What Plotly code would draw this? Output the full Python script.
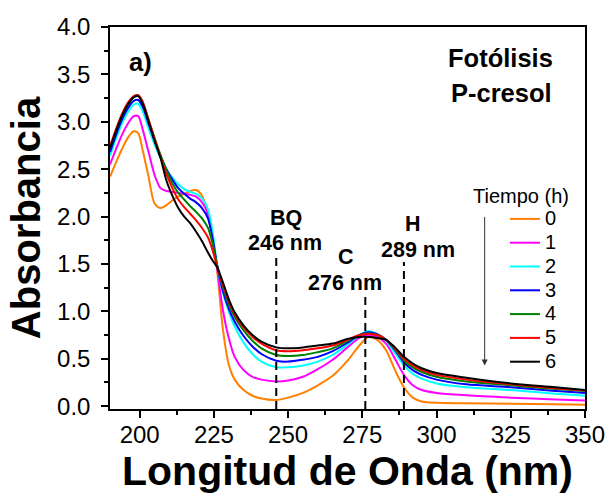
import plotly.graph_objects as go

# Wavelength (nm)
wavelength = [190, 192, 194, 196, 198, 199.5, 201, 203, 205, 207, 209, 211, 213, 215, 217,
              219, 221, 223, 224.5, 226, 228, 230, 232, 235, 238, 241, 246, 250, 255, 260,
              265, 270, 274, 277, 280, 283, 286, 289, 292, 295, 300, 310, 325, 340, 350]

# Absorbance for each irradiation time (h)
abs_t0 = [2.42, 2.57, 2.71, 2.83, 2.90, 2.88, 2.70, 2.42, 2.14, 2.09, 2.12, 2.17, 2.21, 2.24, 2.27,
          2.28, 2.22, 2.02, 1.76, 1.46, 0.82, 0.44, 0.28, 0.17, 0.11, 0.08, 0.065, 0.09, 0.14, 0.22,
          0.32, 0.48, 0.64, 0.73, 0.70, 0.59, 0.38, 0.20, 0.09, 0.05, 0.035, 0.03, 0.025, 0.02, 0.015]
abs_t1 = [2.55, 2.71, 2.86, 2.98, 3.06, 3.06, 2.92, 2.68, 2.44, 2.30, 2.27, 2.26, 2.25, 2.24, 2.23,
          2.21, 2.15, 2.03, 1.80, 1.47, 1.02, 0.72, 0.52, 0.38, 0.31, 0.28, 0.26, 0.27, 0.31, 0.39,
          0.49, 0.62, 0.72, 0.75, 0.73, 0.66, 0.50, 0.33, 0.22, 0.17, 0.14, 0.115, 0.09, 0.07, 0.06]
abs_t2 = [2.64, 2.82, 2.98, 3.10, 3.18, 3.19, 3.11, 2.93, 2.76, 2.62, 2.50, 2.41, 2.34, 2.29, 2.26,
          2.24, 2.19, 2.08, 1.85, 1.50, 1.20, 1.00, 0.84, 0.67, 0.55, 0.47, 0.41, 0.41, 0.43, 0.47,
          0.54, 0.65, 0.75, 0.79, 0.76, 0.69, 0.56, 0.43, 0.34, 0.29, 0.24, 0.20, 0.17, 0.13, 0.11]
abs_t3 = [2.68, 2.86, 3.02, 3.14, 3.22, 3.23, 3.16, 2.98, 2.80, 2.64, 2.50, 2.39, 2.30, 2.24, 2.19,
          2.15, 2.09, 1.98, 1.78, 1.50, 1.22, 1.03, 0.89, 0.74, 0.63, 0.55, 0.48, 0.47, 0.49, 0.52,
          0.58, 0.67, 0.75, 0.78, 0.76, 0.70, 0.59, 0.46, 0.38, 0.33, 0.28, 0.23, 0.20, 0.16, 0.14]
abs_t4 = [2.72, 2.90, 3.06, 3.18, 3.26, 3.28, 3.21, 3.02, 2.83, 2.65, 2.49, 2.35, 2.25, 2.18, 2.11,
          2.05, 1.98, 1.88, 1.72, 1.50, 1.26, 1.08, 0.94, 0.80, 0.69, 0.61, 0.54, 0.53, 0.54, 0.57,
          0.61, 0.69, 0.75, 0.77, 0.75, 0.70, 0.60, 0.48, 0.41, 0.36, 0.31, 0.26, 0.22, 0.18, 0.16]
abs_t5 = [2.74, 2.92, 3.08, 3.20, 3.27, 3.28, 3.21, 3.02, 2.82, 2.63, 2.45, 2.30, 2.18, 2.10, 2.03,
          1.96, 1.88, 1.78, 1.65, 1.48, 1.28, 1.11, 0.97, 0.83, 0.73, 0.66, 0.59, 0.58, 0.59, 0.61,
          0.64, 0.70, 0.75, 0.76, 0.75, 0.70, 0.61, 0.50, 0.43, 0.38, 0.33, 0.28, 0.23, 0.19, 0.165]
abs_t6 = [2.72, 2.90, 3.06, 3.18, 3.26, 3.27, 3.19, 3.00, 2.80, 2.62, 2.38, 2.22, 2.09, 2.00, 1.93,
          1.84, 1.74, 1.62, 1.54, 1.47, 1.31, 1.13, 0.99, 0.85, 0.75, 0.68, 0.62, 0.61, 0.62, 0.64,
          0.66, 0.71, 0.73, 0.73, 0.72, 0.70, 0.62, 0.52, 0.45, 0.40, 0.35, 0.30, 0.24, 0.20, 0.17]

series = [abs_t0, abs_t1, abs_t2, abs_t3, abs_t4, abs_t5, abs_t6]
time_labels = ["0", "1", "2", "3", "4", "5", "6"]
colors = ["#FF8000", "#FF00FF", "#00FFFF", "#0000FF", "#008000", "#FF0000", "#000000"]

# Marked wavelengths
marker_wl = [246, 276, 289]
marker_top = [1.595, 1.16, 1.52]

x_ticks = [200, 225, 250, 275, 300, 325, 350]

FONT = "Arial, Liberation Sans, sans-serif"

fig = go.Figure()
for vals, lab, col in zip(series, time_labels, colors):
    fig.add_trace(go.Scatter(
        x=wavelength, y=vals, mode="lines", name=f'<span style="font-size:20px">{lab}</span>',
        line=dict(color=col, width=2, shape="spline", smoothing=0.8),
    ))

for wl, top in zip(marker_wl, marker_top):
    fig.add_shape(type="line", x0=wl, x1=wl, y0=-0.03, y1=top, xref="x", yref="y",
                  line=dict(color="black", width=2, dash="8px,5px"))

bold = dict(family=FONT, size=21.5, color="black")
big = dict(family=FONT, size=25.5, color="black")
annos = [
    dict(x=200.4, y=3.63, text="<b>a)</b>", font=big),
    dict(x=321.5, y=3.67, text="<b>Fotólisis</b>", font=big),
    dict(x=321.8, y=3.30, text="<b>P-cresol</b>", font=big),
    dict(x=249.3, y=1.99, text="<b>BQ</b>", font=bold),
    dict(x=249.0, y=1.72, text="<b>246 nm</b>", font=bold),
    dict(x=269.5, y=1.57, text="<b>C</b>", font=bold),
    dict(x=269.2, y=1.30, text="<b>276 nm</b>", font=bold),
    dict(x=292.1, y=1.92, text="<b>H</b>", font=bold),
    dict(x=293.7, y=1.65, text="<b>289 nm</b>", font=bold),
    dict(x=328.4, y=2.22, text="Tiempo (h)", font=dict(family=FONT, size=20, color="black")),
]
for a in annos:
    fig.add_annotation(xref="x", yref="y", showarrow=False, xanchor="center", yanchor="middle", **a)

# time arrow
fig.add_annotation(x=316.2, y=0.43, xref="x", yref="y", ax=0, ay=-150, axref="pixel", ayref="pixel",
                   text="", showarrow=True, arrowhead=2, arrowsize=1.2, arrowwidth=1, arrowcolor="#333333")

axis_common = dict(
    showline=True, linecolor="black", linewidth=1.5, mirror=True,
    ticks="outside", ticklen=7, tickwidth=1.5, tickcolor="black",
    showgrid=False, zeroline=False,
    tickfont=dict(family=FONT, size=24, color="black"),
)

fig.update_xaxes(
    range=[190, 350], tickvals=x_ticks,
    minor=dict(ticks="outside", ticklen=4, tickwidth=1.5, dtick=12.5, tick0=200, showgrid=False),
    title=dict(text="<b>Longitud de Onda (nm)</b>", font=dict(family=FONT, size=41, color="black"), standoff=4),
    ticklabelstandoff=-4,
    **axis_common,
)
fig.update_yaxes(
    range=[-0.03, 4.0], dtick=0.5, tick0=0, tickformat=".1f",
    minor=dict(ticks="outside", ticklen=4, tickwidth=1.5, dtick=0.25, tick0=0, showgrid=False),
    title=dict(text="<b>Absorbancia</b>", font=dict(family=FONT, size=40, color="black"), standoff=4),
    ticklabelstandoff=6,
    **axis_common,
)

fig.update_layout(
    width=614, height=498,
    margin=dict(l=110, r=29, t=27, b=89, autoexpand=False),
    paper_bgcolor="white", plot_bgcolor="white",
    showlegend=True,
    legend=dict(x=(505 - 110) / 475, y=1 - (202 - 27) / 382, xanchor="left", yanchor="top",
                bgcolor="rgba(0,0,0,0)", font=dict(family=FONT, size=16, color="black"),
                borderwidth=0, tracegroupgap=0),
)

fig.write_html("out.html", config={"displayModeBar": False},
               post_script="document.body.style.margin='0';document.body.style.overflow='hidden';")
